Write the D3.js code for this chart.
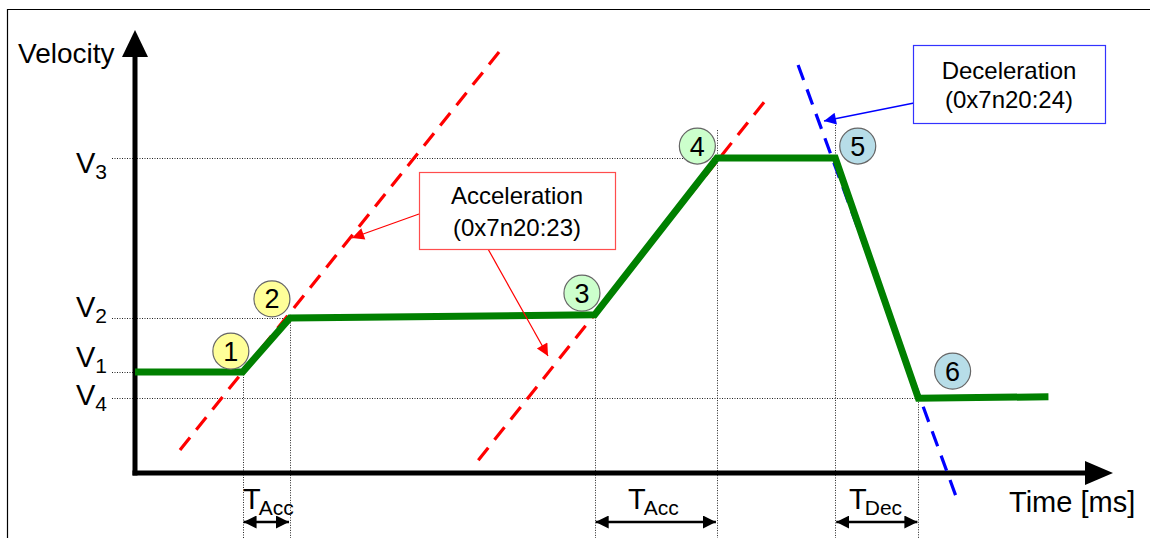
<!DOCTYPE html>
<html>
<head>
<meta charset="utf-8">
<script src="https://cdn.jsdelivr.net/npm/d3@7"></script>
<style>
  body { margin: 0; background: #fff; }
  svg text { font-family: "Liberation Sans", Arial, sans-serif; fill: #000; }
</style>
</head>
<body>
<div id="chart"></div>
<script>
// velocity profile (time in arbitrary units 0..100, velocity 0..100)
var profileTime = [0, 11.0, 15.85, 47.0, 59.5, 71.6, 80.1, 93.4];
var profileVel  = [22.8, 22.8, 35.0, 35.7, 71.1, 71.1, 16.9, 17.2];

// reference levels
var levelNames = ["1", "2", "3", "4"];
var levelVel   = [22.8, 35.0, 71.1, 16.9];
var levelTime  = [11.0, 15.85, 59.5, 80.1];
var levelDy    = [-5, -1, 15, 7];   // label baseline shift

// ramp extensions (dashed)
var accLine1 = [[4.6, 5.2], [37.8, 96.6]];
var accLine2 = [[35.1, 2.9], [64.9, 85.3]];
var decLine  = [[67.8, 92.1], [84.2, -6.8]];

// numbered markers
var markerNo   = ["1", "2", "3", "4", "5", "6"];
var markerTime = [9.8, 14.0, 45.7, 57.5, 73.9, 83.6];
var markerVel  = [27.5, 39.3, 40.6, 73.8, 73.8, 23.0];
var markerFill = ["#ffff99", "#ffff99", "#ccffcc", "#ccffcc", "#b7dde8", "#b7dde8"];

// vertical guides: time, top velocity
var guideTime = [11.0, 15.85, 47.0, 59.5, 71.6, 80.1];
var guideTop  = [22.8, 35.7, 35.7, 77.4, 79.7, 17.2];

// time span annotations
var spanName  = ["Acc", "Acc", "Dec"];
var spanStart = [11.0, 47.0, 71.6];
var spanEnd   = [15.85, 59.5, 80.1];
var spanTextX = [243, 628, 849];

var width = 1150, height = 538;

var x = d3.scaleLinear().domain([0, 100]).range([135, 1113]);
var y = d3.scaleLinear().domain([0, 100]).range([473, 30]);

var svg = d3.select("#chart").append("svg")
    .attr("width", width)
    .attr("height", height);

var defs = svg.append("defs");
function marker(id, color, w, h) {
    defs.append("marker")
        .attr("id", id)
        .attr("viewBox", "0 0 10 10")
        .attr("refX", 10).attr("refY", 5)
        .attr("markerUnits", "userSpaceOnUse")
        .attr("markerWidth", w).attr("markerHeight", h)
        .attr("orient", "auto-start-reverse")
        .append("path")
        .attr("d", "M0,0 L10,5 L0,10 Z")
        .attr("fill", color);
}
marker("redHead", "#ff0000", 16, 12);
marker("blueHead", "#0000ff", 16, 12);
marker("blackHead", "#000", 13, 13);

// frame
svg.append("path")
    .attr("d", "M7.5,538 L7.5,9.5 L1150,9.5")
    .attr("fill", "none").attr("stroke", "#000").attr("stroke-width", 1.2);

// horizontal dotted guides
svg.selectAll(".hguide").data(levelVel).enter().append("line")
    .attr("class", "hguide")
    .attr("x1", 112).attr("x2", function(d, i) { return x(levelTime[i]); })
    .attr("y1", function(d) { return Math.round(y(d)) + 0.5; })
    .attr("y2", function(d) { return Math.round(y(d)) + 0.5; })
    .attr("stroke", "#222").attr("stroke-width", 1).attr("stroke-dasharray", "1,1.5");

// vertical dotted guides
svg.selectAll(".vguide").data(guideTime).enter().append("line")
    .attr("class", "vguide")
    .attr("x1", function(d) { return Math.round(x(d)) + 0.5; })
    .attr("x2", function(d) { return Math.round(x(d)) + 0.5; })
    .attr("y1", function(d, i) { return y(guideTop[i]); }).attr("y2", height)
    .attr("stroke", "#222").attr("stroke-width", 1).attr("stroke-dasharray", "1,1.5");

// axes
svg.append("line")
    .attr("x1", x(0)).attr("x2", x(0))
    .attr("y1", y(0) + 2.5).attr("y2", 50)
    .attr("stroke", "#000").attr("stroke-width", 5);
svg.append("path")
    .attr("d", "M" + x(0) + "," + y(100) + " L" + (x(0) + 13) + ",57 L" + (x(0) - 13) + ",57 Z")
    .attr("fill", "#000");
svg.append("line")
    .attr("x1", x(0) - 2.5).attr("x2", 1090)
    .attr("y1", y(0)).attr("y2", y(0))
    .attr("stroke", "#000").attr("stroke-width", 5);
svg.append("path")
    .attr("d", "M" + x(100) + "," + y(0) + " L" + (x(100) - 28) + "," + (y(0) - 12) + " L" + (x(100) - 28) + "," + (y(0) + 12) + " Z")
    .attr("fill", "#000");

svg.append("text").attr("x", 18).attr("y", 63)
    .style("font-size", "28px").text("Velocity");
svg.append("text").attr("x", 1009).attr("y", 512)
    .style("font-size", "29px").text("Time [ms]");

// level labels
var lv = svg.selectAll(".lvl").data(levelVel).enter().append("text")
    .attr("class", "lvl")
    .attr("x", 76)
    .attr("y", function(d, i) { return y(d) + levelDy[i]; })
    .style("font-size", "29px");
lv.append("tspan").text("V");
lv.append("tspan").attr("dy", 6).style("font-size", "21px")
    .text(function(d, i) { return levelNames[i]; });

// dashed ramp lines
function dashed(pts, color) {
    svg.append("line")
        .attr("x1", x(pts[0][0])).attr("y1", y(pts[0][1]))
        .attr("x2", x(pts[1][0])).attr("y2", y(pts[1][1]))
        .attr("stroke", color).attr("stroke-width", 3.2)
        .attr("stroke-dasharray", "16,10");
}
dashed(accLine1, "#ff0000");
dashed(accLine2, "#ff0000");
dashed(decLine, "#0000ff");

// velocity profile
var line = d3.line()
    .x(function(d) { return x(d); })
    .y(function(d, i) { return y(profileVel[i]); });
svg.append("path")
    .datum(profileTime)
    .attr("d", line)
    .attr("fill", "none")
    .attr("stroke", "#008000")
    .attr("stroke-width", 7)
    .attr("stroke-linejoin", "miter");

// callouts
var acc = svg.append("g");
acc.append("line").attr("x1", 419).attr("y1", 214).attr("x2", 352).attr("y2", 238)
    .attr("stroke", "#ff0000").attr("stroke-width", 1.2).attr("marker-end", "url(#redHead)");
acc.append("line").attr("x1", 488).attr("y1", 249).attr("x2", 548).attr("y2", 356)
    .attr("stroke", "#ff0000").attr("stroke-width", 1.2).attr("marker-end", "url(#redHead)");
acc.append("rect").attr("x", 419.5).attr("y", 172.5).attr("width", 196).attr("height", 77)
    .attr("fill", "#fff").attr("stroke", "#ff4d4d").attr("stroke-width", 1.2);
acc.append("text").attr("x", 517).attr("y", 204).attr("text-anchor", "middle")
    .style("font-size", "24px").text("Acceleration");
acc.append("text").attr("x", 517).attr("y", 236).attr("text-anchor", "middle")
    .style("font-size", "24px").text("(0x7n20:23)");

var dec = svg.append("g");
dec.append("line").attr("x1", 914).attr("y1", 103).attr("x2", 824).attr("y2", 121)
    .attr("stroke", "#0000ff").attr("stroke-width", 1.5).attr("marker-end", "url(#blueHead)");
dec.append("rect").attr("x", 913.5).attr("y", 45.5).attr("width", 192).attr("height", 78)
    .attr("fill", "#fff").attr("stroke", "#3333ff").attr("stroke-width", 1.2);
dec.append("text").attr("x", 1009).attr("y", 79).attr("text-anchor", "middle")
    .style("font-size", "24px").text("Deceleration");
dec.append("text").attr("x", 1009).attr("y", 108).attr("text-anchor", "middle")
    .style("font-size", "24px").text("(0x7n20:24)");

// numbered markers
var mk = svg.selectAll(".mk").data(markerNo).enter().append("g")
    .attr("class", "mk")
    .attr("transform", function(d, i) { return "translate(" + x(markerTime[i]) + "," + y(markerVel[i]) + ")"; });
mk.append("circle").attr("r", 18)
    .attr("fill", function(d, i) { return markerFill[i]; })
    .attr("stroke", "#666").attr("stroke-width", 1.2);
mk.append("text").attr("text-anchor", "middle").attr("dy", 9.5)
    .style("font-size", "27px").text(function(d) { return d; });

// time spans
var sp = svg.selectAll(".span").data(spanName).enter().append("g").attr("class", "span");
sp.append("line")
    .attr("x1", function(d, i) { return x(spanStart[i]) + 1; })
    .attr("x2", function(d, i) { return x(spanEnd[i]) - 1; })
    .attr("y1", 522).attr("y2", 522)
    .attr("stroke", "#000").attr("stroke-width", 2.5)
    .attr("marker-start", "url(#blackHead)")
    .attr("marker-end", "url(#blackHead)");
var st = sp.append("text")
    .attr("x", function(d, i) { return spanTextX[i]; })
    .attr("y", 509)
    .style("font-size", "29px");
st.append("tspan").text("T");
st.append("tspan").attr("dy", 6).attr("dx", -2).style("font-size", "21px").text(function(d) { return d; });
</script>
</body>
</html>
